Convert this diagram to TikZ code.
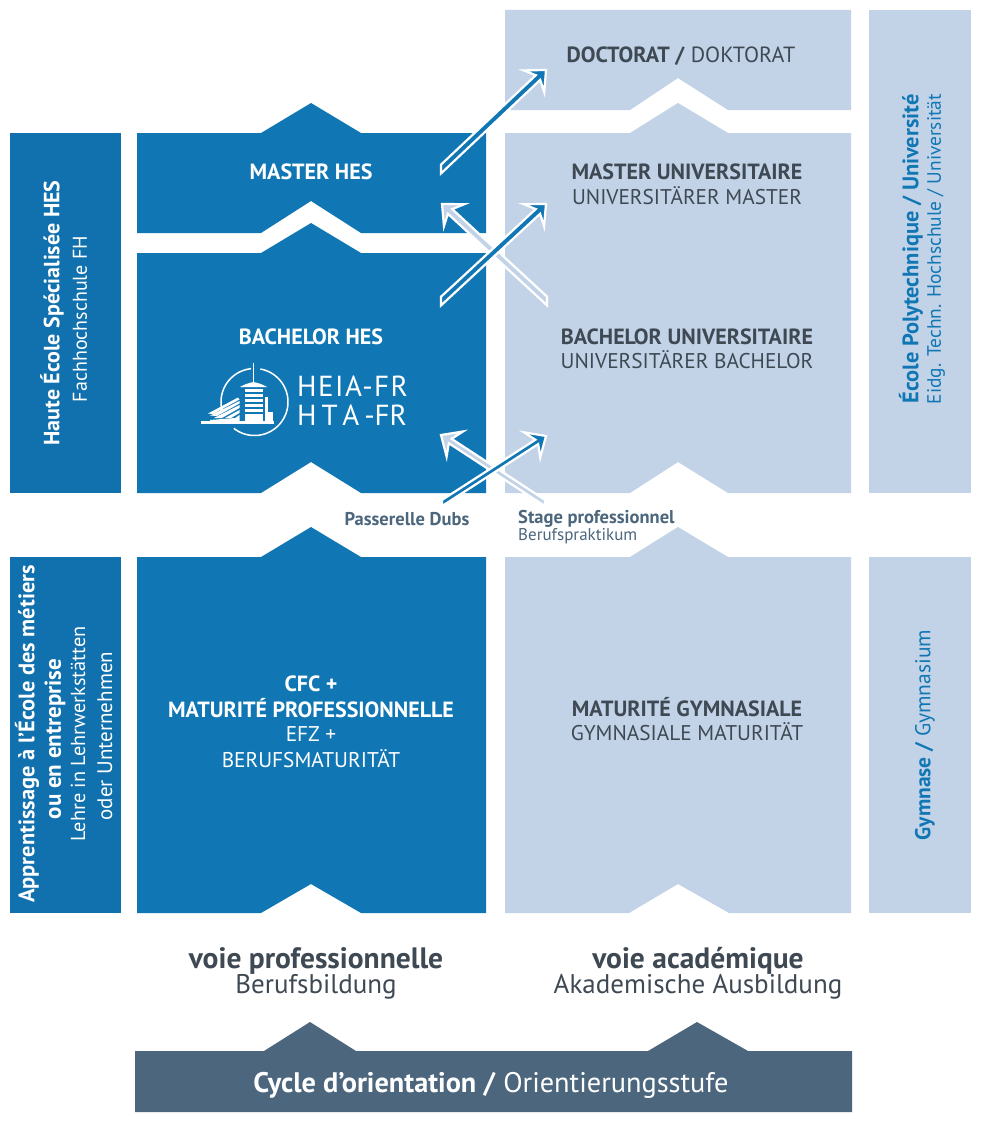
\documentclass[tikz,border=0pt]{standalone}
\usepackage{fontspec}
\setmainfont{PT Sans}
\usetikzlibrary{calc}
\definecolor{hesblue}{HTML}{1177B4}
\definecolor{sideblue}{HTML}{1170AE}
\definecolor{lightblue}{HTML}{C2D3E8}
\definecolor{slate}{HTML}{4C667D}
\definecolor{darktext}{HTML}{3F4953}
\tikzset{
  lab/.style={inner sep=0pt,align=center,font=\fontsize{#1}{#1}\selectfont},
  lab/.default=22,
  dk/.style={lab=#1,text=darktext},
  dk/.default=22,
  wh/.style={lab=#1,text=white},
  wh/.default=22,
  bl/.style={lab=#1,text=hesblue},
  vert/.style={rotate=90},
  arrowshape/.style={draw=white,line width=2.2pt,line join=miter,miter limit=10}
}
% \crossarrow{tail}{tip}{fill}{half width}: barbed arrow with a vertical tail cut
\newcommand{\crossarrow}[4]{%
  \path ($(#2)!11pt!(#1)$) coordinate (nA) ($(#2)!16.5pt!(#1)$) coordinate (nB);
  \path ($(nA)!#4!90:(#2)$) coordinate (sa) ($(nA)!#4!-90:(#2)$) coordinate (sb)
        ($(nB)!15pt!90:(#2)$) coordinate (ba) ($(nB)!15pt!-90:(#2)$) coordinate (bb);
  \path ($(#1)!#4!90:(#2)$) coordinate (ta0) ($(#1)!#4!-90:(#2)$) coordinate (tb0)
        ($(#1)+(0,10)$) coordinate (tv);
  \path (intersection of sa--ta0 and #1--tv) coordinate (ta1)
        (intersection of sb--tb0 and #1--tv) coordinate (tb1);
  \fill[#3,arrowshape] (ta1) -- (sa) -- (ba) -- (#2) -- (bb) -- (sb) -- (tb1) -- cycle;
}
\begin{document}
\begin{tikzpicture}[x=1pt,y=-1pt]
\useasboundingbox (0,0) rectangle (987,1124);
\fill[white] (0,0) rectangle (987,1124);
% side columns
\fill[sideblue] (10,133) rectangle (121,493);
\fill[sideblue] (10,557) rectangle (121,913);
\fill[lightblue] (869,10) rectangle (971,493);
\fill[lightblue] (869,557) rectangle (971,913);
% professional track
\fill[hesblue] (137,133) -- (261,133) -- (311,103) -- (361,133) -- (486,133) -- (486,233) -- (361,233) -- (311,201) -- (261,233) -- (137,233) -- cycle;
\fill[hesblue] (137,253) -- (261,253) -- (311,223) -- (361,253) -- (486,253) -- (486,493) -- (361,493) -- (311,462) -- (261,493) -- (137,493) -- cycle;
\fill[hesblue] (137,557) -- (261,557) -- (311,527) -- (361,557) -- (486,557) -- (486,913) -- (361,913) -- (311,884) -- (261,913) -- (137,913) -- cycle;
% academic track
\fill[lightblue] (505,10) -- (851,10) -- (851,110) -- (728,110) -- (678,78) -- (630,110) -- (505,110) -- cycle;
\fill[lightblue] (505,133) -- (630,133) -- (678,103) -- (728,133) -- (851,133) -- (851,493) -- (728,493) -- (678,462) -- (630,493) -- (505,493) -- cycle;
\fill[lightblue] (505,557) -- (630,557) -- (678,527) -- (728,557) -- (851,557) -- (851,913) -- (729,913) -- (678,884) -- (629,913) -- (505,913) -- cycle;
% orientation bar
\fill[slate] (135,1051) -- (264,1051) -- (310,1022) -- (356,1051) -- (648,1051) -- (697,1022) -- (748,1051) -- (852,1051) -- (852,1112) -- (135,1112) -- cycle;
% arrows
\coordinate (a1t) at (441,169); \coordinate (a1h) at (546,70);
\coordinate (a2t) at (441,301); \coordinate (a2h) at (546,204);
\coordinate (a3t) at (547,301); \coordinate (a3h) at (442,204);
\coordinate (a4t) at (545,503); \coordinate (a4h) at (441,435);
\coordinate (a5t) at (442,503); \coordinate (a5h) at (546,436);
\crossarrow{a3t}{a3h}{lightblue}{3.2pt}
\crossarrow{a2t}{a2h}{hesblue}{3.2pt}
\crossarrow{a1t}{a1h}{hesblue}{3.2pt}
\crossarrow{a4t}{a4h}{lightblue}{2.6pt}
\crossarrow{a5t}{a5h}{hesblue}{2.6pt}
% logo
\begin{scope}[white]
\draw[line width=1.5pt] plot[domain=-80:128,samples=70] ({254.5+33.5*cos(\x)},{402+33.5*sin(\x)});
\draw[line width=1.5pt] plot[domain=165:264,samples=40] ({254.5+33.5*cos(\x)},{402+33.5*sin(\x)});
\fill (252.5,363) rectangle (254.1,384);
\fill (240,387) .. controls (245,384) and (249,383) .. (253.3,382) .. controls (258,383) and (262,384) .. (267,387) -- cycle;
\foreach \yy in {388.5,393.5,398.5,403.5,408.5,413.5} {\fill (245,\yy) rectangle (263,\yy+3.4);}
\fill (245,417) rectangle (263,421);
\fill (201,421) rectangle (274,424);
\fill (265,397) rectangle (268,421);
\fill (268,412) rectangle (273,421);
\fill (208,413.5) -- (238,397.5) -- (239.5,399.5) -- (213,414) -- cycle;
\fill (210,415.5) -- (239.5,401) -- (239.5,403.5) -- (217,416) -- cycle;
\fill (214,418) -- (239.5,405) -- (239.5,408) -- (222,418) -- cycle;
\fill (225,418) -- (239.5,410) -- (239.5,413) -- (231,418) -- cycle;
\fill (235,418) -- (239.5,415) -- (239.5,421) -- (210,421) -- (210,420) -- cycle;
\end{scope}
\node[wh=29,anchor=west,align=left] (heia) at (297,401) {\fontsize{29}{26}\selectfont\addfontfeature{LetterSpace=5}HEIA-FR\\[0pt]H\,T\,A\,-FR};
% labels
\node[wh] (masterhes) at (311,172) {\bfseries MASTER HES};
\node[wh] (bachelorhes) at (311,337) {\bfseries BACHELOR HES};
\node[dk] (doctorat) at (681,56) {\textbf{DOCTORAT /} DOKTORAT};
\node[dk] (masteruni) at (687,172) {\bfseries MASTER UNIVERSITAIRE};
\node[dk=21.3] (masterunide) at (687,196) {UNIVERSITÄRER MASTER};
\node[dk] (bachuni) at (687,337) {\bfseries BACHELOR UNIVERSITAIRE};
\node[dk=21.3] (bachunide) at (687,360) {UNIVERSITÄRER BACHELOR};
\node[wh] (cfc) at (311,684) {\bfseries CFC +};
\node[wh] (matpro) at (311,708) {\bfseries MATURITÉ PROFESSIONNELLE};
\node[wh=21.3] (efz) at (311,734) {EFZ +};
\node[wh=21.3] (berufsm) at (311,759) {BERUFSMATURITÄT};
\node[dk] (matgym) at (687,707) {\bfseries MATURITÉ GYMNASIALE};
\node[dk=21.3] (matgymde) at (687,732) {GYMNASIALE MATURITÄT};
% side labels
\node[wh,vert] (haute) at (52,313) {\bfseries Haute École Spécialisée HES};
\node[wh=20,vert] (fach) at (80,319) {Fachhochschule FH};
\node[wh=22.4,vert] (appr) at (27,734) {\bfseries Apprentissage à l’École des métiers};
\node[wh=23,vert] (ouen) at (55,739) {\bfseries ou en entreprise};
\node[wh=20.3,vert] (lehre) at (78,734) {Lehre in Lehrwerkstätten};
\node[wh=21,vert] (oder) at (105,736) {oder Unternehmen};
\node[bl=22.4,vert] (ecole) at (911,249) {\bfseries École Polytechnique / Université};
\node[bl=19.4,vert] (eidg) at (936,249) {Eidg. Techn. Hochschule / Universität};
\node[bl=21.5,vert] (gym) at (925,735) {\textbf{Gymnase /} Gymnasium};
% track titles
\node[dk=29.5] (voiepro) at (316,961) {\bfseries voie professionnelle};
\node[dk=27] (berufsb) at (316,987) {Berufsbildung};
\node[dk=29.5] (voieaca) at (698,961) {\bfseries voie académique};
\node[dk=27] (akad) at (698,987) {Akademische Ausbildung};
\node[wh=28.3] (cycle) at (491,1085) {\textbf{Cycle d’orientation /} Orientierungsstufe};
% crossing labels
\node[lab=18.5,text=slate] (dubs) at (407,519) {\bfseries Passerelle Dubs};
\node[lab=18.5,text=slate,anchor=west] (stage) at (518,519) {\bfseries Stage professionnel};
\node[lab=17,text=slate,anchor=west] (prakt) at (518,536) {Berufspraktikum};
\end{tikzpicture}
\end{document}
